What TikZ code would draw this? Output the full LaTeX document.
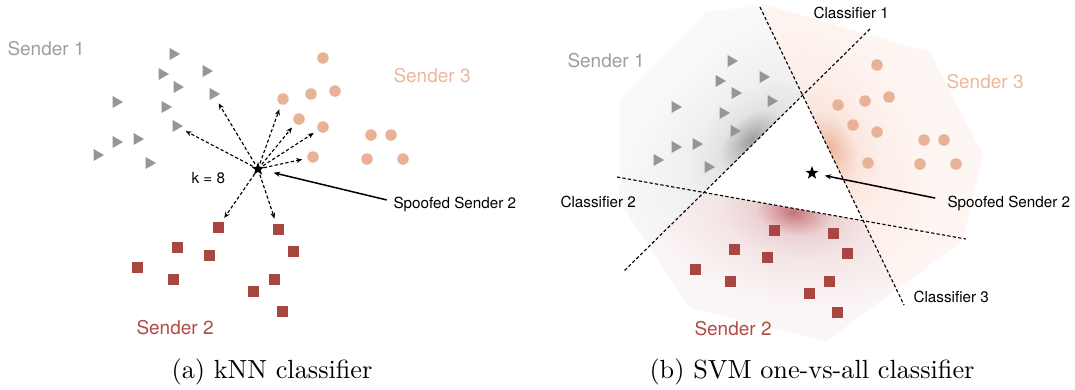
\documentclass[tikz,border=0pt]{standalone}
\usepackage{fontspec}
\newfontfamily\hv{TeX Gyre Heros}
\usetikzlibrary{shapes.geometric,arrows.meta}
\definecolor{ptgray}{RGB}{150,150,150}
\definecolor{txtgray}{RGB}{158,158,158}
\definecolor{ptpeach}{RGB}{232,178,150}
\definecolor{txtpeach}{RGB}{238,182,154}
\definecolor{ptred}{RGB}{170,70,66}
\definecolor{txtred}{RGB}{178,74,70}
\definecolor{bggray}{rgb}{0.975,0.975,0.975}
\definecolor{bgpeach}{rgb}{0.995,0.965,0.952}
\definecolor{bgred}{rgb}{0.985,0.963,0.963}
\pgfdeclareradialshading{grayblob}{\pgfpoint{0bp}{0bp}}{rgb(0bp)=(0.62,0.62,0.62); rgb(2.5bp)=(0.74,0.74,0.74); rgb(6bp)=(0.89,0.89,0.89); rgb(12bp)=(0.94,0.94,0.94); rgb(25bp)=(0.975,0.975,0.975); rgb(50bp)=(0.975,0.975,0.975)}
\pgfdeclareradialshading{peachblob}{\pgfpoint{0bp}{0bp}}{rgb(0bp)=(0.93,0.72,0.62); rgb(2.5bp)=(0.95,0.80,0.73); rgb(6bp)=(0.98,0.90,0.865); rgb(12bp)=(0.99,0.935,0.915); rgb(25bp)=(0.995,0.965,0.952); rgb(50bp)=(0.995,0.965,0.952)}
\pgfdeclareradialshading{redblob}{\pgfpoint{0bp}{0bp}}{rgb(0bp)=(0.77,0.45,0.47); rgb(2.5bp)=(0.85,0.61,0.63); rgb(6bp)=(0.925,0.82,0.83); rgb(12bp)=(0.955,0.90,0.905); rgb(25bp)=(0.985,0.963,0.963); rgb(50bp)=(0.985,0.963,0.963)}
\begin{document}
\begin{tikzpicture}[x=0.4pt,y=-0.4pt,
  tri/.style={regular polygon,regular polygon sides=3,shape border rotate=-90,fill=ptgray,inner sep=0pt,minimum size=5.6pt},
  dot/.style={circle,fill=ptpeach,inner sep=0pt,minimum size=4.6pt},
  sq/.style={rectangle,fill=ptred,inner sep=0pt,minimum size=4.4pt},
  starnode/.style={star,star points=5,star point ratio=2.5,fill=black,inner sep=0pt,minimum size=5.6pt},
  biglabel/.style={anchor=base west,inner sep=0pt,font=\hv\fontsize{7.6}{9}\selectfont},
  smalllabel/.style={anchor=base west,inner sep=0pt,font=\hv\fontsize{6.1}{7}\selectfont,text=black},
  caption/.style={anchor=base,inner sep=0pt,font=\fontsize{10.5}{12}\selectfont},
  knn/.style={line width=0.45pt,dash pattern=on 1.3pt off 0.9pt,-{Stealth[length=2.4pt,width=2pt]},shorten <=2.4pt,shorten >=4.4pt},
  spoof/.style={line width=0.6pt,-{Stealth[length=2.6pt,width=2pt]}},
  cls/.style={line width=0.45pt,dash pattern=on 1.3pt off 0.9pt}]
\useasboundingbox (0,0) rectangle (1075,389);

% ---------- right panel shading ----------
\def\hull{(707,12) -- (765,5) -- (930,52) -- (983,155) -- (963,240) -- (827,341) -- (690,308) -- (619,200) -- (620,100) -- cycle}
\begin{scope}
  \clip \hull;
  \begin{scope}
    \clip (512,158) -- (1071,258) -- (1071,389) -- (512,389) -- cycle;
    \fill[bgred] (500,0) rectangle (1075,389);
    \begin{scope}[transform canvas={xshift=317.2pt,yshift=-84.8pt,rotate=-10.1,yscale=0.6}]
      \shade[shading=redblob] (0,0) circle (160);
    \end{scope}
  \end{scope}
  \begin{scope}
    \clip (1116,-213) -- (378,513) -- (0,513) -- (0,-213) -- cycle;
    \fill[bggray] (500,0) rectangle (1075,389);
    \begin{scope}[transform canvas={xshift=300.4pt,yshift=-56pt,rotate=44.5,yscale=0.6}]
      \shade[shading=grayblob] (0,0) circle (160);
    \end{scope}
  \end{scope}
  \begin{scope}
    \clip (745,-23) -- (947,394) -- (1075,394) -- (1075,-23) -- cycle;
    \fill[bgpeach] (500,0) rectangle (1075,389);
    \begin{scope}[transform canvas={xshift=332.4pt,yshift=-58.8pt,rotate=-64.2,yscale=0.6}]
      \shade[shading=peachblob] (0,0) circle (160);
    \end{scope}
  \end{scope}
\end{scope}

% ---------- classifier lines ----------
\coordinate (a1) at (760,7);   \coordinate (a2) at (904,305);
\coordinate (b1) at (870,29);  \coordinate (b2) at (624,271);
\coordinate (c1) at (617,177); \coordinate (c2) at (966,239);
\draw[cls] (a1) -- (a2);
\draw[cls] (b1) -- (b2);
\draw[cls] (c1) -- (c2);

% ---------- left panel points ----------
\foreach \n/\x/\y in {1/173/54,2/162/74,3/206/71,4/177/87,5/213/94,6/116/102,7/165/107,8/176/126,9/116/142,10/137/139,11/97/155,12/149/163}
  \node[tri] (tL\n) at (\x,\y) {};
\foreach \n/\x/\y in {1/323/58,2/283/99,3/311/94,4/335/91,5/299/119,6/323/127,7/371/135,8/391/135,9/313/157,10/367/159,11/403/159}
  \node[dot] (cL\n) at (\x,\y) {};
\foreach \n/\x/\y in {1/218/227,2/278/229,3/177/247,4/209/255,5/293/251,6/137/267,7/173/279,8/274/279,9/253/291,10/282/311}
  \node[sq] (sL\n) at (\x,\y) {};
\node[starnode] (starL) at (258,169) {};

% ---------- right panel points ----------
\foreach \n/\x/\y in {1/731/61,2/719/81,3/763/77,4/735/93,5/771/101,6/675/107,7/723/113,8/734/131,9/675/147,10/696/144,11/657/160,12/708/167}
  \node[tri] (tR\n) at (\x,\y) {};
\foreach \n/\x/\y in {1/877/65,2/838/105,3/865/101,4/889/97,5/853/125,6/877/132,7/924/140,8/944/140,9/868/163,10/920/164,11/956/164}
  \node[dot] (cR\n) at (\x,\y) {};
\foreach \n/\x/\y in {1/774/230,2/833/233,3/734/249,4/767/257,5/847/253,6/695/269,7/730/281,8/829/281,9/809/293,10/837/312}
  \node[sq] (sR\n) at (\x,\y) {};
\node[starnode] (starR) at (812,173) {};

% ---------- kNN arrows ----------
\foreach \t in {tL8,tL5,cL2,cL5,cL6,cL9,sL1,sL2}
  \draw[knn] (starL.center) -- (\t.center);

% ---------- labels left ----------
\node[biglabel,text=txtgray] (s1L) at (7,55) {Sender 1};
\node[biglabel,text=txtpeach] (s3L) at (393,82) {Sender 3};
\node[biglabel,text=txtred] (s2L) at (136,334) {Sender 2};
\node[smalllabel] (kL) at (191,183) {k = 8};
\node[smalllabel] (spL) at (393,208) {Spoofed Sender 2};
\draw[spoof,shorten <=2.6pt,shorten >=6.4pt] ([yshift=1pt]spL.west) -- (starL.center);

% ---------- labels right ----------
\node[biglabel,text=txtgray] (s1R) at (567,67) {Sender 1};
\node[biglabel,text=txtpeach] (s3R) at (946,88) {Sender 3};
\node[biglabel,text=txtred] (s2R) at (694,335) {Sender 2};
\node[smalllabel] (cl1) at (813,18) {Classifier 1};
\node[smalllabel] (cl2) at (560,207) {Classifier 2};
\node[smalllabel] (cl3) at (913,302) {Classifier 3};
\node[smalllabel] (spR) at (947,207) {Spoofed Sender 2};
\draw[spoof,shorten <=4.8pt,shorten >=5.2pt] ([yshift=1pt]spR.west) -- (starR.center);

% ---------- captions ----------
\node[caption] (capA) at (272,378) {(a) kNN classifier};
\node[caption] (capB) at (812,378) {(b) SVM one-vs-all classifier};
\end{tikzpicture}
\end{document}
